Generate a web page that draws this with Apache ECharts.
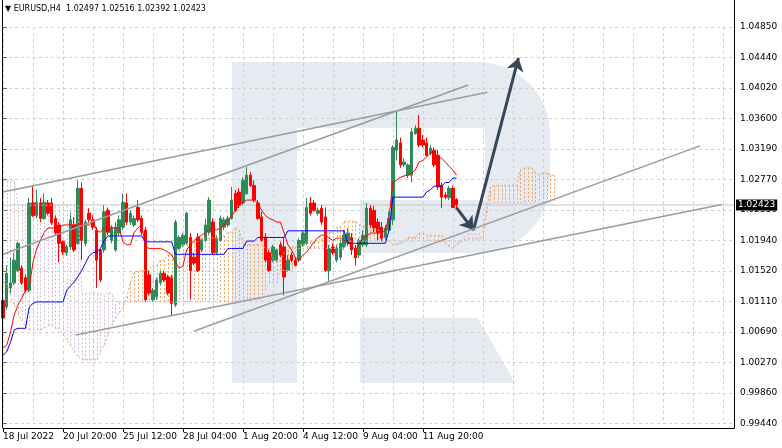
<!DOCTYPE html>
<html><head><meta charset="utf-8">
<script src="https://cdn.jsdelivr.net/npm/echarts@6/dist/echarts.min.js"></script>
<style>html,body{margin:0;padding:0;background:#fff}#c{width:782px;height:448px}</style>
</head><body><div id="c"></div>
<script>
const symbolName = 'EURUSD,H4';
const barCount = 196;
const openArr = [1.0112,1.0103,1.0129,1.0136,1.0153,1.0156,1.0143,1.0126,1.0245,1.0228,
1.0245,1.0224,1.0245,1.0245,1.0224,1.0215,1.0192,1.0177,1.0185,1.0215,
1.0190,1.0265,1.0190,1.0231,1.0222,1.0208,1.0181,1.0181,1.0235,1.0194,
1.0181,1.0204,1.0212,1.0245,1.0219,1.0215,1.0239,1.0224,1.0208,1.0147,
1.0113,1.0117,1.0136,1.0149,1.0144,1.0143,1.0106,1.0183,1.0188,1.0190,
1.0198,1.0171,1.0198,1.0181,1.0194,1.0205,1.0219,1.0177,1.0194,1.0212,
1.0215,1.0224,1.0258,1.0260,1.0245,1.0258,1.0283,1.0269,1.0245,1.0226,
1.0198,1.0177,1.0167,1.0167,1.0188,1.0185,1.0153,1.0174,1.0167,1.0167,
1.0188,1.0190,1.0245,1.0245,1.0231,1.0238,1.0226,1.0153,1.0185,1.0167,
1.0171,1.0185,1.0190,1.0198,1.0183,1.0174,1.0188,1.0188,1.0238,1.0235,
1.0219,1.0212,1.0198,1.0208,1.0222,1.0317,1.0327,1.0297,1.0283,1.0283,
1.0340,1.0347,1.0331,1.0327,1.0313,1.0317,1.0310,1.0269,1.0256,1.0252,
1.0265,1.02497];
const highArr = [1.0118,1.0160,1.0171,1.0177,1.0192,1.0160,1.0147,1.0252,1.0269,1.0263,
1.0252,1.0258,1.0249,1.0252,1.0228,1.0219,1.0194,1.0188,1.0231,1.0226,
1.0276,1.0273,1.0222,1.0238,1.0228,1.0212,1.0183,1.0242,1.0239,1.0215,
1.0219,1.0228,1.0258,1.0258,1.0235,1.0228,1.0249,1.0228,1.0212,1.0153,
1.0129,1.0143,1.0153,1.0153,1.0147,1.0147,1.0222,1.0201,1.0204,1.0233,
1.0204,1.0177,1.0204,1.0197,1.0224,1.0253,1.0224,1.0201,1.0228,1.0226,
1.0228,1.0267,1.0263,1.0265,1.0280,1.0294,1.0287,1.0276,1.0249,1.0233,
1.0204,1.0181,1.0188,1.0183,1.0192,1.0198,1.0174,1.0178,1.0171,1.0197,
1.0208,1.0252,1.0253,1.0249,1.0239,1.0242,1.0239,1.0188,1.0190,1.0188,
1.0194,1.0208,1.0211,1.0204,1.0188,1.0197,1.0208,1.0245,1.0242,1.0241,
1.0224,1.0219,1.0215,1.0233,1.0324,1.0369,1.0334,1.0306,1.0299,1.0347,
1.0351,1.0365,1.0338,1.0334,1.0324,1.0321,1.0317,1.0273,1.0260,1.0268,
1.0269,1.02516];
const lowArr = [1.0082,1.0099,1.0122,1.0133,1.0151,1.0133,1.0123,1.0123,1.0226,1.0224,
1.0219,1.0222,1.0228,1.0215,1.0200,1.0164,1.0174,1.0173,1.0181,1.0178,
1.0188,1.0167,1.0186,1.0219,1.0208,1.0129,1.0137,1.0177,1.0201,1.0190,
1.0178,1.0200,1.0208,1.0215,1.0215,1.0212,1.0219,1.0201,1.0110,1.0119,
1.0110,1.0113,1.0133,1.0137,1.0119,1.0092,1.0103,1.0181,1.0185,1.0188,
1.0113,1.0160,1.0151,1.0178,1.0192,1.0201,1.0174,1.0174,1.0192,1.0208,
1.0212,1.0222,1.0233,1.0238,1.0242,1.0256,1.0267,1.0246,1.0222,1.0192,
1.0164,1.0151,1.0164,1.0164,1.0171,1.0119,1.0151,1.0164,1.0158,1.0164,
1.0185,1.0188,1.0228,1.0233,1.0228,1.0215,1.0151,1.0138,1.0174,1.0164,
1.0167,1.0181,1.0186,1.0174,1.0160,1.0170,1.0185,1.0185,1.0211,1.0205,
1.0194,1.0192,1.0194,1.0205,1.0215,1.0303,1.0293,1.0294,1.0279,1.0273,
1.0338,1.0321,1.0321,1.0308,1.0310,1.0294,1.0263,1.0238,1.0250,1.0249,
1.0238,1.02392];
const closeArr = [1.0088,1.0149,1.0136,1.0167,1.0190,1.0136,1.0126,1.0245,1.0228,1.0246,
1.0224,1.0246,1.0231,1.0218,1.0204,1.0190,1.0178,1.0185,1.0222,1.0181,
1.0265,1.0194,1.0219,1.0222,1.0212,1.0167,1.0140,1.0233,1.0205,1.0212,
1.0212,1.0222,1.0246,1.0219,1.0231,1.0224,1.0222,1.0205,1.0113,1.0122,
1.0126,1.0140,1.0149,1.0140,1.0122,1.0108,1.0219,1.0198,1.0201,1.0231,
1.0153,1.0163,1.0153,1.0194,1.0215,1.0249,1.0177,1.0197,1.0224,1.0222,
1.0224,1.0249,1.0235,1.0242,1.0276,1.0283,1.0269,1.0249,1.0224,1.0194,
1.0167,1.0153,1.0185,1.0181,1.0174,1.0144,1.0167,1.0167,1.0160,1.0194,
1.0204,1.0239,1.0231,1.0235,1.0235,1.0219,1.0153,1.0183,1.0177,1.0183,
1.0190,1.0201,1.0204,1.0181,1.0170,1.0194,1.0201,1.0238,1.0215,1.0211,
1.0205,1.0197,1.0211,1.0224,1.0321,1.0331,1.0297,1.0301,1.0297,1.0342,
1.0347,1.0324,1.0324,1.0310,1.0320,1.0297,1.0267,1.0253,1.0253,1.0265,
1.0239,1.02423];
const tenkan = [1.0047,1.0051,1.0069,1.0092,1.0106,1.0115,1.0126,1.0130,1.0164,1.0183,1.0194,1.0205,
1.0211,1.0211,1.0211,1.0211,
1.0215,1.0215,1.0215,1.0215,1.0215,1.0215,1.0215,1.0215,
1.0219,1.0208,1.0205,
1.0211,1.0211,1.0211,1.0211,1.0211,
1.0192,1.0188,1.0188,1.0205,1.0211,1.0215,1.0185,
1.0183,1.0183,1.0183,1.0183,
1.0181,1.0178,1.0174,1.0164,1.0156,1.0159,1.0181,1.0188,1.0194,1.0198,1.0201,1.0205,1.0208,1.0211,1.0208,1.0211,1.0215,1.0222,1.0228,1.0235,1.0242,1.0246,
1.0249,1.0249,1.0249,
1.0245,1.0235,1.0228,1.0224,1.0222,
1.0219,1.0219,
1.0204,1.0188,1.0181,1.0170,1.0167,1.0174,1.0178,1.0185,1.0192,1.0198,
1.0201,1.0201,
1.0197,1.0194,
1.0197,1.0197,
1.0194,1.0192,1.0186,1.0181,1.0188,1.0197,1.0200,
1.0204,1.0204,1.0204,1.0204,
1.0208,1.0226,1.0273,1.0276,1.0280,1.0282,1.0283,1.0286,1.0290,1.0301,1.0303,1.0308,1.0313,1.0314,1.0308,1.0306,1.0301,1.0295,1.0290,1.0283];
const kijun = [1.0037,1.0042,1.0055,1.0072,1.0074,1.0074,1.0074,1.0103,1.0108,
1.0110,1.0110,1.0110,1.0110,1.0110,1.0110,1.0110,1.0110,
1.0126,1.0132,1.0137,1.0145,1.0153,1.0163,1.0173,1.0177,1.0178,1.0183,1.0194,
1.0200,1.0200,1.0200,1.0200,1.0200,1.0200,1.0200,1.0200,1.0200,1.0200,
1.0192,1.0192,1.0192,1.0192,1.0192,1.0192,1.0192,1.0192,
1.0175,1.0175,1.0175,1.0175,1.0175,1.0175,1.0175,1.0175,1.0175,1.0175,1.0175,1.0175,1.0175,1.0175,
1.0183,1.0183,1.0183,1.0183,1.0183,
1.0193,1.0193,1.0193,
1.0198,1.0198,1.0198,1.0198,1.0198,1.0198,1.0198,1.0198,
1.0207,1.0207,1.0207,1.0207,1.0207,1.0207,1.0207,1.0207,1.0207,1.0207,1.0207,1.0207,1.0207,1.0207,1.0207,1.0207,
1.0190,1.0190,1.0190,1.0190,1.0190,1.0190,1.0190,1.0190,1.0190,1.0190,1.0190,
1.0208,
1.0253,1.0253,1.0253,1.0253,1.0253,1.0253,1.0253,1.0253,1.0253,
1.0260,1.0263,1.0268,1.0268,1.0268,1.0273,1.0273,1.0279,1.0279];
const spanA = [1.0136,1.0136,1.0119,1.0106,1.0095,1.0085,1.0076,
1.0072,1.0072,1.0072,1.0072,1.0074,1.0078,1.0078,1.0074,1.0074,
1.0065,1.0058,1.0051,1.0042,1.0035,1.0031,1.0031,1.0031,1.0031,1.0031,
1.0042,1.0051,1.0065,1.0078,1.0088,1.0095,1.0102,1.0117,1.0136,1.0151,1.0152,
1.0153,1.0153,1.0153,1.0160,1.0160,1.0167,1.0167,1.0174,1.0174,1.0181,1.0181,1.0188,1.0188,
1.0192,1.0192,1.0192,1.0197,1.0197,1.0197,1.0197,1.0197,1.0200,1.0200,1.0205,1.0205,
1.0211,1.0208,1.0189,1.0188,1.0188,1.0188,1.0188,1.0188,1.0183,1.0183,
1.0170,1.0166,1.0167,1.0178,1.0181,1.0185,1.0185,1.0188,1.0188,
1.0192,1.0192,1.0192,1.0192,1.0194,1.0203,1.0205,1.0205,1.0212,1.0212,
1.0220,1.0220,1.0220,1.0220,1.0216,1.0213,1.0213,1.0209,1.0209,1.0209,
1.0201,1.0197,1.0193,1.0188,1.0188,1.0190,1.0192,1.0198,1.0198,1.0198,1.0204,1.0204,
1.0201,1.0201,1.0201,1.0201,1.0201,1.0190,1.0186,1.0183,1.0188,1.0192,1.0194,
1.0196,1.0196,1.0196,1.0196,1.0198,1.0231,1.0267,
1.0269,1.0269,1.0269,1.0269,1.0269,1.0269,1.0269,1.0290,1.0293,1.0293,1.0293,
1.0287,1.0284,1.0286,1.0286,1.0283,1.0283];
const spanB = [1.0276,1.0276,1.0276,1.0276,
1.0242,1.0242,1.0242,1.0242,1.0242,1.0242,1.0242,1.0242,1.0242,1.0242,1.0242,1.0242,1.0242,1.0242,1.0242,1.0242,1.0242,
1.0122,1.0122,1.0122,1.0122,1.0122,1.0122,1.0122,1.0122,1.0122,
1.0110,1.0110,1.0110,1.0110,1.0110,1.0110,1.0110,1.0110,1.0110,1.0110,1.0110,1.0110,1.0110,1.0110,1.0110,1.0110,1.0110,
1.0110,1.0110,1.0110,1.0110,1.0110,1.0110,1.0110,1.0110,1.0110,1.0110,1.0110,1.0110,1.0110,1.0110,1.0110,1.0110,
1.0113,1.0113,1.0113,1.0113,1.0113,1.0113,1.0113,
1.0126,1.0136,1.0136,1.0136,1.0153,1.0153,1.0153,1.0153,1.0179,
1.0183,1.0183,1.0183,1.0183,1.0183,1.0183,1.0183,1.0183,1.0183,1.0183,1.0183,1.0183,1.0183,
1.0193,1.0193,1.0193,1.0193,1.0193,1.0193,1.0193,1.0193,1.0193,1.0193,1.0193,1.0193,1.0193,1.0193,1.0193,1.0193,
1.0193,1.0193,1.0193,1.0193,1.0193,1.0193,1.0193,1.0193,1.0193,1.0193,1.0193,1.0193,1.0193,1.0193,1.0193,
1.0198,1.0203,1.0203,1.0203,1.0203,1.0207,
1.0245,1.0245,1.0245,1.0245,1.0245,1.0245,1.0245,1.0245,1.0245,1.0245,1.0245,1.0245,1.0245,1.0245,1.0245,1.0245,1.0245,1.0245,1.0245];
const xTickIdx = [0,16,32,48,64,80,96,112];
const xTickText = ['18 Jul 2022','20 Jul 20:00','25 Jul 12:00','28 Jul 04:00','1 Aug 20:00','4 Aug 12:00','9 Aug 04:00','11 Aug 20:00'];
const yTickText = ['0.99440','0.99860','1.00270','1.00690','1.01110','1.01520','1.01940','1.02350','1.02770','1.03190','1.03600','1.04020','1.04440','1.04850'];
const yMin = 0.99441, yStep = 0.004162, yMax = 1.048516;
const lastPrice = 1.02423;
const trendLines = [
  [[0, 1.0260], [129.2, 1.0396]],
  [[0, 1.0175], [124.1, 1.0406]],
  [[19.4, 1.0065], [191.8, 1.0243]],
  [[50.9, 1.0070], [185.9, 1.0323]]
];
const arrows = [
  [[120.9, 1.0239], [125.5, 1.0208]],
  [[125.5, 1.0208], [137.5, 1.0443]]
];

const FONT = 'DejaVu Sans';
const cats = Array.from({length: barCount}, (_, i) => String(i));
const candleData = openArr.map((o, i) => [o, closeArr[i], lowArr[i], highArr[i]]);
const cloudData = spanA.map((a, i) => [i, a, spanB[i]]);
const n = openArr.length - 1;
const headerText = '\u25BC ' + symbolName + '  ' + [openArr[n], highArr[n], lowArr[n], closeArr[n]].map(v => v.toFixed(5)).join(' ');
const wm = '#e6ebf2';

const chart = echarts.init(document.getElementById('c'), null, {renderer: 'canvas'});
const series = [
  {
    type: 'custom', xAxisIndex: 1, yAxisIndex: 0, z: 1, silent: true,
    data: cloudData, encode: {x: 0, y: [1, 2]},
    renderItem: (params, api) => {
      const i = api.value(0), a = api.value(1), b = api.value(2);
      const p1 = api.coord([i, a]), p2 = api.coord([i, b]);
      const x = Math.round(p1[0]) + 0.5;
      return {type: 'line', shape: {x1: x, y1: p1[1], x2: x, y2: p2[1]},
        style: {stroke: a >= b ? '#f4a460' : '#d8bfd8', lineWidth: 1, lineDash: [2, 2]}};
    }
  },
  {
    type: 'line', xAxisIndex: 1, yAxisIndex: 0, z: 1.5, silent: true, showSymbol: false,
    data: [[0, lastPrice], [barCount - 1, lastPrice]],
    lineStyle: {color: '#c4c4c4', width: 1},
    endLabel: {show: true, formatter: lastPrice.toFixed(5), backgroundColor: '#000', color: '#fff',
      fontFamily: FONT, fontSize: 9, padding: [1, 2, 1, 2], distance: 2}
  },
  {
    type: 'candlestick', xAxisIndex: 0, yAxisIndex: 0, z: 2, silent: true,
    data: candleData, barWidth: 3,
    itemStyle: {color: '#2e8b57', color0: '#ff0000', borderColor: '#2e8b57', borderColor0: '#ff0000', borderWidth: 1}
  },
  {type: 'line', xAxisIndex: 0, data: spanA, showSymbol: false, silent: true, z: 3,
    lineStyle: {color: '#f4a460', width: 1, type: [2, 2]}},
  {type: 'line', xAxisIndex: 0, data: spanB, showSymbol: false, silent: true, z: 3,
    lineStyle: {color: '#d8bfd8', width: 1, type: [2, 2]}},
  {type: 'line', xAxisIndex: 0, data: tenkan, showSymbol: false, silent: true, z: 4,
    lineStyle: {color: '#ff0000', width: 1}},
  {type: 'line', xAxisIndex: 0, data: kijun, showSymbol: false, silent: true, z: 4,
    lineStyle: {color: '#0000ff', width: 1}}
];
trendLines.forEach(tl => series.push({
  type: 'line', xAxisIndex: 1, data: tl, showSymbol: false, silent: true, z: 5,
  lineStyle: {color: '#9c9c9c', width: 1.5}
}));
series.push({
  type: 'line', xAxisIndex: 1, data: arrows[1], showSymbol: false, silent: true, z: 6,
  lineStyle: {opacity: 0},
  markLine: {
    silent: true, animation: false, symbol: ['none', 'arrow'], symbolSize: 13,
    label: {show: false},
    lineStyle: {color: '#37475a', width: 3, type: 'solid'},
    data: arrows.map(a => [{coord: a[0]}, {coord: a[1]}])
  }
});

chart.setOption({
  animation: false,
  backgroundColor: '#ffffff',
  textStyle: {fontFamily: FONT},
  grid: {left: 2, right: 48, top: 27, bottom: 24.5, containLabel: false},
  xAxis: [
    {
      type: 'category', data: cats, boundaryGap: false, position: 'bottom', offset: 4.5,
      axisLine: {show: true, lineStyle: {color: '#000', width: 1}},
      axisTick: {show: true, length: 4, lineStyle: {color: '#000'}, interval: (idx) => xTickIdx.includes(idx)},
      axisLabel: {show: true, interval: (idx) => xTickIdx.includes(idx), align: 'left', margin: 4,
        color: '#000', fontFamily: FONT, fontSize: 9,
        formatter: (v, idx) => { const k = xTickIdx.indexOf(Number(v)); return k >= 0 ? xTickText[k] : ''; }},
      splitLine: {show: true, interval: (idx) => idx % 8 === 0, lineStyle: {color: '#d0d0d0', type: [3, 3], width: 1}}
    },
    {type: 'value', min: 0, max: barCount - 1, show: false}
  ],
  yAxis: [{
    type: 'value', position: 'right', min: yMin, max: yMax, interval: yStep,
    axisLine: {show: false},
    axisTick: {show: true, length: 4, lineStyle: {color: '#666'}},
    axisLabel: {show: true, margin: 6, color: '#000', fontFamily: FONT, fontSize: 9,
      formatter: (v, idx) => yTickText[idx] || ''},
    splitLine: {show: true, lineStyle: {color: '#d0d0d0', type: [3, 3], width: 1}}
  }],
  graphic: [
    {type: 'rect', z: -10, silent: true, shape: {x: 232, y: 62, width: 65, height: 321}, style: {fill: wm}},
    {type: 'rect', z: -10, silent: true, shape: {x: 297, y: 62, width: 253, height: 191, r: [0, 72, 72, 0]}, style: {fill: wm}},
    {type: 'polygon', z: -9, silent: true, shape: {points: [[297,128],[485,128],[485,200],[360,200],[360,253],[297,253]]}, style: {fill: '#fff'}},
    {type: 'polygon', z: -10, silent: true, shape: {points: [[360,318],[478,318],[515,383],[360,383]]}, style: {fill: wm}},
    {type: 'line', z: 50, silent: true, shape: {x1: 2.5, y1: 0, x2: 2.5, y2: 428}, style: {stroke: '#000', lineWidth: 1}},
    {type: 'line', z: 50, silent: true, shape: {x1: 734.5, y1: 0, x2: 734.5, y2: 428.5}, style: {stroke: '#000', lineWidth: 1}},
    {type: 'text', z: 50, silent: true, left: 5, top: 5, style: {text: headerText, font: '8px "DejaVu Sans"', fill: '#000'}}
  ],
  series: series
});
</script></body></html>
